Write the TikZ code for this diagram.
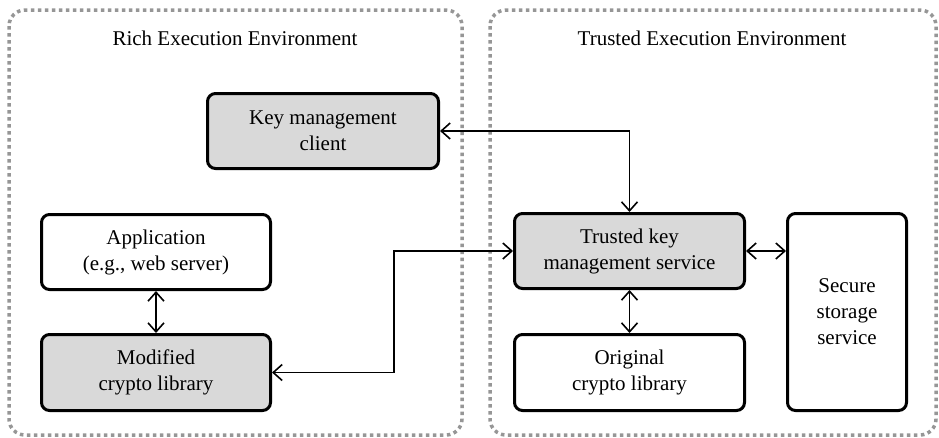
\documentclass[tikz,border=0pt]{standalone}
\usepackage{fontspec}
\setmainfont{Liberation Serif}
\newfontfamily\tnr{Liberation Serif}
\usetikzlibrary{arrows.meta}
\definecolor{boxgray}{HTML}{D9D9D9}
\definecolor{dotgray}{HTML}{969696}
\tikzset{
  comp/.style={draw=black, line width=3pt, rounded corners=8pt, align=center,
    inner sep=0pt, font=\tnr\fontsize{21}{26}\selectfont, text=black},
  shaded/.style={comp, fill=boxgray},
  plain/.style={comp, fill=white},
  envbox/.style={draw=dotgray, line width=3.5pt, dash pattern=on 3.5pt off 3.5pt, rounded corners=16pt},
  envlabel/.style={font=\tnr\fontsize{21}{26}\selectfont, text=black},
  link/.style={line width=1.6pt, {Straight Barb[length=9pt,width=16pt,line width=1.6pt]}-{Straight Barb[length=9pt,width=16pt,line width=1.6pt]}}
}
\begin{document}
\begin{tikzpicture}[x=1pt,y=-1pt]
\useasboundingbox (0,0) rectangle (939,437);
\draw[envbox] (9,10) rectangle (462,435);
\draw[envbox] (490,10) rectangle (936,435);
\node[envlabel] (reeLabel) at (235,38) {Rich Execution Environment};
\node[envlabel] (teeLabel) at (712,38) {Trusted Execution Environment};

\node[shaded, minimum width=231pt, minimum height=75pt] (kmc) at (323,131) {Key management\\client};
\node[plain, minimum width=229pt, minimum height=75pt] (app) at (156,252) {Application\\(e.g., web server)};
\node[shaded, minimum width=229pt, minimum height=76pt] (mod) at (156,372.5) {Modified\\crypto library};
\node[shaded, minimum width=230pt, minimum height=75pt] (tkms) at (629.5,251) {Trusted key\\management service};
\node[plain, minimum width=230pt, minimum height=76pt] (orig) at (629.5,372.5) {Original\\crypto library};
\node[plain, minimum width=119pt, minimum height=197pt] (sss) at (847,312) {Secure\\storage\\service};

\draw[link] (app) -- (mod);
\draw[link] (tkms) -- (orig);
\draw[link] (tkms.east) -- (tkms.east -| sss.west);
\draw[link] (kmc.east) -| (tkms.north);
\coordinate (bend) at (394,372.5);
\draw[link] (mod.east) -- (bend) |- (tkms.west);
\end{tikzpicture}
\end{document}
